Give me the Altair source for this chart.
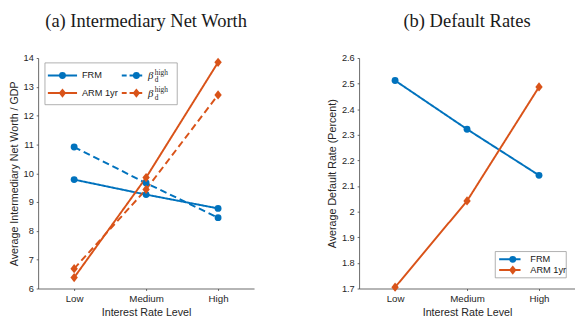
import altair as alt
import pandas as pd

# ---- data ----
levels = ["Low", "Medium", "High"]
nw_frm = [9.78, 9.26, 8.78]
nw_frm_beta = [10.91, 9.66, 8.46]
nw_arm = [6.38, 9.85, 13.85]
nw_arm_beta = [6.69, 9.44, 12.72]
def_frm = [2.512, 2.322, 2.142]
def_arm = [1.705, 2.042, 2.487]

BLUE = "#0072BD"
ORANGE = "#D95319"
DIAMOND = "M0,-1L0.8,0L0,1L-0.8,0Z"
SANS = "Liberation Sans"
SERIF = "Liberation Serif"
W, H = 222, 237
CSIZE = 50
DSIZE = 90


def long(series):
    rows = []
    for name, typ, var, vals in series:
        for lv, v in zip(levels, vals):
            rows.append({"series": name, "type": typ, "variant": var, "level": lv, "value": v})
    return pd.DataFrame(rows)


nw_df = long([
    ("FRM", "FRM", "base", nw_frm),
    ("FRM beta", "FRM", "beta", nw_frm_beta),
    ("ARM 1yr", "ARM 1yr", "base", nw_arm),
    ("ARM beta", "ARM 1yr", "beta", nw_arm_beta),
])
def_df = long([
    ("FRM", "FRM", "base", def_frm),
    ("ARM 1yr", "ARM 1yr", "base", def_arm),
])

color_scale = alt.Scale(domain=["FRM", "ARM 1yr"], range=[BLUE, ORANGE])
shape_scale = alt.Scale(domain=["FRM", "ARM 1yr"], range=["circle", DIAMOND])
size_scale = alt.Scale(domain=["FRM", "ARM 1yr"], range=[CSIZE, DSIZE])
dash_scale = alt.Scale(domain=["base", "beta"], range=[[1, 0], [7, 4]])

x_enc = alt.X("level:N", sort=levels, scale=alt.Scale(type="point", padding=0.5),
              axis=alt.Axis(title="Interest Rate Level", labelAngle=0))


def panel(df, ydomain, yvals, ytitle, fmt):
    y_enc = alt.Y("value:Q", scale=alt.Scale(domain=ydomain, nice=False, zero=False),
                  axis=alt.Axis(title=ytitle, values=yvals, format=fmt))
    base = alt.Chart(df)
    lines = base.mark_line(strokeWidth=2).encode(
        x=x_enc, y=y_enc,
        color=alt.Color("type:N", scale=color_scale, legend=None),
        strokeDash=alt.StrokeDash("variant:N", scale=dash_scale, legend=None),
        detail="series:N",
    )
    pts = base.mark_point(filled=True, opacity=1).encode(
        x=x_enc, y=y_enc,
        color=alt.Color("type:N", scale=color_scale, legend=None),
        shape=alt.Shape("type:N", scale=shape_scale, legend=None),
        size=alt.Size("type:N", scale=size_scale, legend=None),
        detail="series:N",
    )
    return [lines, pts]


one = pd.DataFrame({"k": [0]})


def leg_box(x1, x2, y1, y2):
    return alt.Chart(one).mark_rect(fill="white", stroke="#9a9a9a", strokeWidth=0.8).encode(
        x=alt.value(x1), x2=alt.value(x2), y=alt.value(y1), y2=alt.value(y2))


def leg_entry(x1, x2, xm, y, color, shape, dashed, label, xt, size):
    r = alt.Chart(one).mark_rule(color=color, strokeWidth=2,
                                 strokeDash=[5, 3] if dashed else [1, 0]).encode(
        x=alt.value(x1), x2=alt.value(x2), y=alt.value(y))
    p = alt.Chart(one).mark_point(filled=True, opacity=1, color=color, shape=shape, size=size).encode(
        x=alt.value(xm), y=alt.value(y))
    layers = [r, p]
    if label is not None:
        t = alt.Chart(one).mark_text(align="left", baseline="middle", font=SANS, fontSize=9.5,
                                     color="#1a1a1a", text=label).encode(
            x=alt.value(xt), y=alt.value(y))
        layers.append(t)
    return layers


def beta_label(xt, y):
    b = alt.Chart(one).mark_text(align="left", baseline="middle", font=SERIF, fontSize=11,
                                 fontStyle="italic", color="#1a1a1a", text="β").encode(
        x=alt.value(xt), y=alt.value(y + 1))
    sup = alt.Chart(one).mark_text(align="left", baseline="middle", font=SERIF, fontSize=7.5,
                                   color="#1a1a1a", text="high").encode(
        x=alt.value(xt + 7), y=alt.value(y - 3))
    sub = alt.Chart(one).mark_text(align="left", baseline="middle", font=SERIF, fontSize=7.5,
                                   color="#1a1a1a", text="d").encode(
        x=alt.value(xt + 7), y=alt.value(y + 5))
    return [b, sup, sub]


left_layers = panel(nw_df, [6, 14], list(range(6, 15)),
                    "Average Intermediary Net Worth / GDP", "~g")
left_layers += [leg_box(7, 143, 5, 48)]
left_layers += leg_entry(10, 40, 25, 18, BLUE, "circle", False, "FRM", 45, CSIZE)
left_layers += leg_entry(10, 40, 25, 36, ORANGE, DIAMOND, False, "ARM 1yr", 45, DSIZE)
left_layers += leg_entry(86, 110, 101, 18, BLUE, "circle", True, None, 0, CSIZE)
left_layers += leg_entry(86, 110, 101, 36, ORANGE, DIAMOND, True, None, 0, DSIZE)
left_layers += beta_label(113, 18)
left_layers += beta_label(113, 36)

right_layers = panel(def_df, [1.7, 2.6], [1.7, 1.8, 1.9, 2.0, 2.1, 2.2, 2.3, 2.4, 2.5, 2.6],
                     "Average Default Rate (Percent)", "~g")
right_layers += [leg_box(140, 213, 199, 226)]
right_layers += leg_entry(144, 166, 158, 207, BLUE, "circle", False, "FRM", 176, CSIZE)
right_layers += leg_entry(144, 166, 158, 218, ORANGE, DIAMOND, False, "ARM 1yr", 176, DSIZE)

title_props = dict(font=SERIF, fontSize=19, fontWeight="normal", color="#1a1a1a", offset=23)

left = alt.layer(*left_layers).properties(
    width=W, height=H, title=alt.TitleParams("(a) Intermediary Net Worth", **title_props))
right = alt.layer(*right_layers).properties(
    width=W, height=H, title=alt.TitleParams("(b) Default Rates", **title_props))

chart = alt.hconcat(left, right, spacing=74).properties(padding=0).configure_view(
    stroke=None
).configure_axis(
    labelFont=SANS, titleFont=SANS, labelFontSize=9.5, titleFontSize=11,
    labelColor="#262626", titleColor="#262626", domainColor="#404040",
    tickColor="#404040", tickSize=2, grid=False, titleFontWeight="normal",
    domainWidth=0.8, tickWidth=0.8, labelPadding=3, titlePadding=4,
).configure_axisX(labelFontSize=10)

chart.save("out.html", embed_options={"renderer": "svg", "actions": False})
